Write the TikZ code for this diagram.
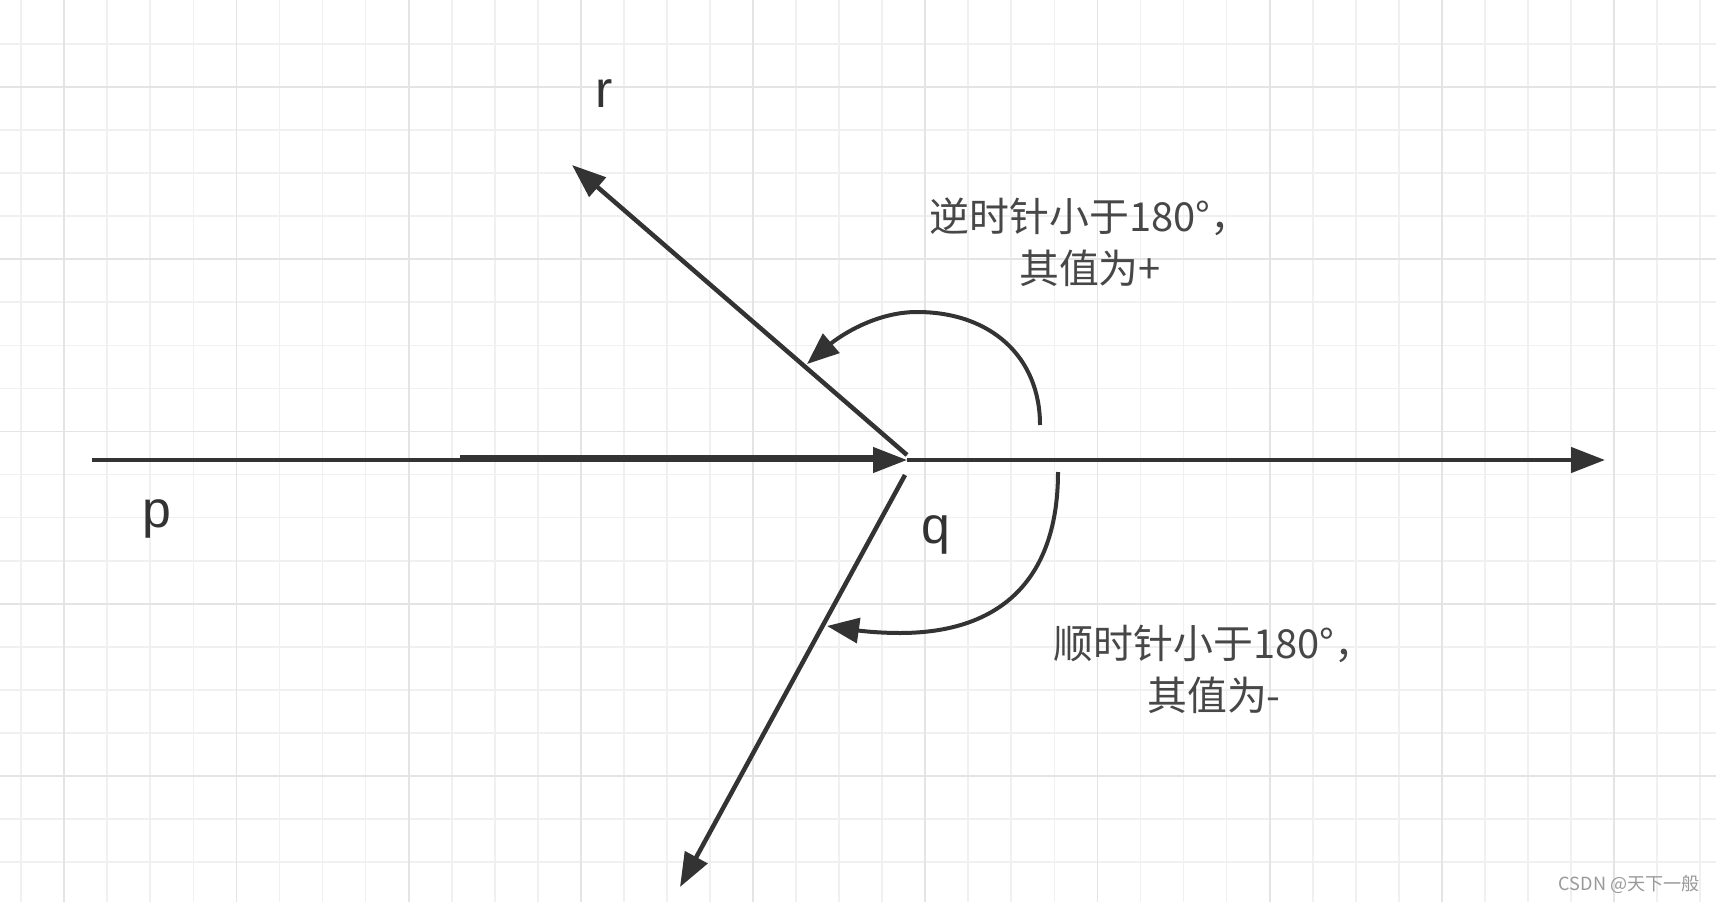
\documentclass[tikz,border=0pt]{standalone}
\usepackage{fontspec}
\setmainfont{Liberation Sans}
\newfontfamily\cjk{Noto Sans CJK SC}
\usetikzlibrary{arrows.meta}
\definecolor{ink}{HTML}{333333}
\definecolor{notegray}{HTML}{474747}
\definecolor{gridminor}{HTML}{F0F0F0}
\definecolor{gridmajor}{HTML}{E4E4E4}

\begin{document}
\begin{tikzpicture}[x=0.02cm, y=-0.02cm,
    gridmin/.style={draw=gridminor, line width=0.035cm},
    gridmaj/.style={draw=gridmajor, line width=0.035cm},
    vecline/.style={draw=ink, line width=0.09cm, -{Triangle[length=0.68cm, width=0.5cm]}},
    turnarc/.style={draw=ink, line width=0.08cm, -{Triangle[length=0.64cm, width=0.5cm]}},
    ptlabel/.style={anchor=base, inner sep=0pt, text=ink, font=\fontsize{29.5pt}{30pt}\selectfont},
    notetext/.style={align=center, inner sep=0pt, text=notegray, font=\cjk\fontsize{22.7pt}{29.5pt}\selectfont},
    wmark/.style={anchor=base east, inner sep=0pt, text=black!40, font=\cjk\fontsize{10.3pt}{12pt}\selectfont}]

   \useasboundingbox[fill=white] (0,0) rectangle (1716,902);

   % background grid
   \foreach \k in {0,...,39} \draw[gridmin] ({21.2+43.05*\k},0) -- ++(0,902);
   \foreach \k in {1,...,20} \draw[gridmin] (0,{1+43.05*\k}) -- ++(1716,0);
   \foreach \k in {1,5,...,37} \draw[gridmaj] ({21.2+43.05*\k},0) -- ++(0,902);
   \foreach \k in {2,6,...,18} \draw[gridmaj] (0,{1+43.05*\k}) -- ++(1716,0);

   % points
   \coordinate (pstart) at (92,460);
   \coordinate (q) at (907,460);
   \coordinate (qr) at (907,455);
   \coordinate (qs) at (905,475);
   \coordinate (rtip) at (572,165);
   \coordinate (xend) at (1605,460);
   \coordinate (stip) at (680,887);
   \coordinate (dbl) at (460,457);
   \coordinate (dblend) at (880,457);

   % vectors
   \draw[draw=ink, line width=0.09cm] (dbl) -- (dblend);
   \draw[vecline] (pstart) -- (q);
   \draw[vecline] (q) -- (xend);
   \draw[vecline] (qr) -- (rtip);
   \draw[vecline] (qs) -- (stip);

   \node[ptlabel] (p) at (157,527) {p};
   \node[ptlabel] (qlbl) at (936,543) {q};
   \node[ptlabel] (r) at (604,108) {r};

   % turning arcs
   \coordinate (ccwstart) at (1040,425);
   \coordinate (ccwtop) at (917,312);
   \coordinate (ccwend) at (807,364);
   \draw[turnarc] (ccwstart) .. controls (1040,357) and (991,312) .. (ccwtop)
                             .. controls (872,312) and (835,340) .. (ccwend);

   \coordinate (cwstart) at (1058,472);
   \coordinate (cwlow) at (900,633);
   \coordinate (cwend) at (827,626);
   \draw[turnarc] (cwstart) .. controls (1058,577) and (1003,633) .. (cwlow)
                            .. controls (870,633) and (848,629) .. (cwend);

   \node[notetext] (ccwnote) at (1090,242) {逆时针小于180°，\\其值为+};
   \node[notetext] (cwnote) at (1214,669) {顺时针小于180°，\\其值为-};

   \node[wmark] (csdn) at (1700,890) {CSDN @天下一般};
\end{tikzpicture}
\end{document}
